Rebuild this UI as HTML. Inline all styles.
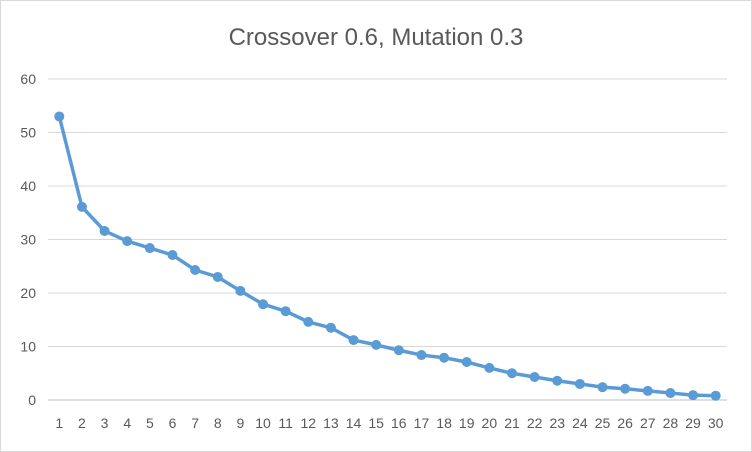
<!DOCTYPE html>
<html><head><meta charset="utf-8"><style>
body{margin:0;background:#fff;}
svg{display:block;font-family:"Liberation Sans",sans-serif;}
</style></head><body>
<svg id="chart" width="752" height="452">
<rect x="0.5" y="0.5" width="751" height="451" fill="#fff" stroke="#d9d9d9"/>
<text x="376" y="45" text-anchor="middle" font-size="24" fill="#595959">Crossover 0.6, Mutation 0.3</text>
<g id="grid"></g><g id="series"></g><g id="labels"></g>
</svg>
<script>
const categories=[1,2,3,4,5,6,7,8,9,10,11,12,13,14,15,16,17,18,19,20,21,22,23,24,25,26,27,28,29,30];
const values=[53,36.1,31.6,29.7,28.4,27.1,24.3,23.0,20.4,17.9,16.6,14.6,13.5,11.2,10.3,9.3,8.4,7.9,7.1,6.0,5.0,4.3,3.6,3.0,2.4,2.1,1.7,1.3,0.9,0.8];
const yTicks=[0,10,20,30,40,50,60];
const NS="http://www.w3.org/2000/svg";
const x0=48,x1=727,yBase=400,yTop=79;
function xs(i){return x0+(x1-x0)*(i+0.5)/categories.length;}
function ys(v){return yBase-(yBase-yTop)*v/60;}
function mk(t,a,p){const e=document.createElementNS(NS,t);for(const k in a)e.setAttribute(k,a[k]);p.appendChild(e);return e;}
const grid=document.getElementById('grid'),ser=document.getElementById('series'),lab=document.getElementById('labels');
yTicks.forEach(v=>{
 const l=mk('line',{x1:x0,x2:x1,y1:ys(v),y2:ys(v),stroke:v===0?'#bfbfbf':'#d9d9d9','stroke-width':1},grid);
 
 
 const t=mk('text',{x:36,y:ys(v)+5,'text-anchor':'end','font-size':14,fill:'#595959'},lab);
 t.textContent=v;
 
 
});
categories.forEach((c,i)=>{
 const t=mk('text',{x:xs(i),y:428,'text-anchor':'middle','font-size':14,fill:'#595959'},lab);
 t.textContent=c;
 
 
});
const pl=mk('polyline',{points:values.map((v,i)=>xs(i)+','+ys(v)).join(' '),fill:'none',stroke:'#5b9bd5','stroke-width':3.5,'stroke-linejoin':'round'},ser);


values.forEach((v,i)=>{
 const c=mk('circle',{cx:xs(i),cy:ys(v),r:5,fill:'#5b9bd5'},ser);
 
 
});
</script>
</body></html>
